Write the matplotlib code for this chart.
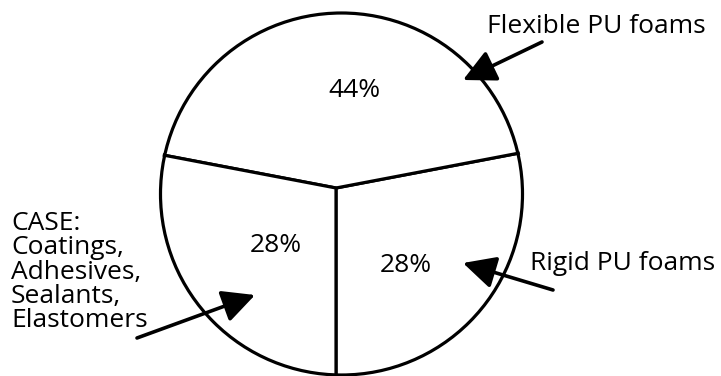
import matplotlib
matplotlib.use("Agg")
import matplotlib.pyplot as plt
from matplotlib.patches import Circle

# Polyurethane market share by application
segments = ["Rigid PU foams", "Flexible PU foams", "CASE"]
shares = [28, 44, 28]
case_lines = ["CASE:", "Coatings,", "Adhesives,", "Sealants,", "Elastomers"]

W, H = 721, 376
fig = plt.figure(figsize=(W / 100, H / 100), dpi=100)
ax = fig.add_axes([0, 0, 1, 1])

FONT = "Open Sans"
FS = 19
LW = 2.3
PX = 72 / 100  # points per pixel

vertex = (336, H - 188)
ring_center = (341.5, H - 194)
R = 181

wedges, _ = ax.pie(shares, startangle=-90, counterclock=True, center=vertex,
                   radius=200, wedgeprops=dict(facecolor="white",
                                               edgecolor="black", lw=LW))
for w in wedges:
    w.set_zorder(1)

# white band hides the wedge arcs beyond the outline
ax.add_patch(Circle(ring_center, R + 31, facecolor="none", edgecolor="white",
                    lw=58 * PX, zorder=2))
ax.add_patch(Circle(ring_center, R, facecolor="none", edgecolor="black",
                    lw=LW, zorder=3))

ax.set_xlim(0, W)
ax.set_ylim(0, H)
ax.set_aspect("equal")
ax.axis("off")

# percentage labels inside each slice
pct_pos = [(406, H - 272), (354, H - 97), (276, H - 252)]
for v, (x, y) in zip(shares, pct_pos):
    ax.text(x, y, f"{v}%", ha="center", va="baseline", fontsize=FS,
            family=FONT, zorder=4)

# segment names
ax.text(487, H - 33, segments[1], ha="left", va="baseline", fontsize=FS,
        family=FONT, zorder=4)
ax.text(530, H - 270, segments[0], ha="left", va="baseline", fontsize=FS,
        family=FONT, zorder=4)
for i, line in enumerate(case_lines):
    ax.text(11, H - (230 + 24.3 * i), line, ha="left", va="baseline",
            fontsize=FS, family=FONT, zorder=4)

# pointer arrows
arrow_style = dict(arrowstyle="-|>,head_length=0.9,head_width=0.45",
                   color="black", lw=2.6, shrinkA=0, shrinkB=0,
                   mutation_scale=22)
arrows = [((542, H - 42), (463, H - 80)),
          ((553, H - 290), (463, H - 263)),
          ((137, H - 338), (255, H - 295))]
for tail, tip in arrows:
    ax.annotate("", xy=tip, xytext=tail, arrowprops=arrow_style, zorder=5)

fig.savefig("out.png", dpi=100, facecolor="white")
